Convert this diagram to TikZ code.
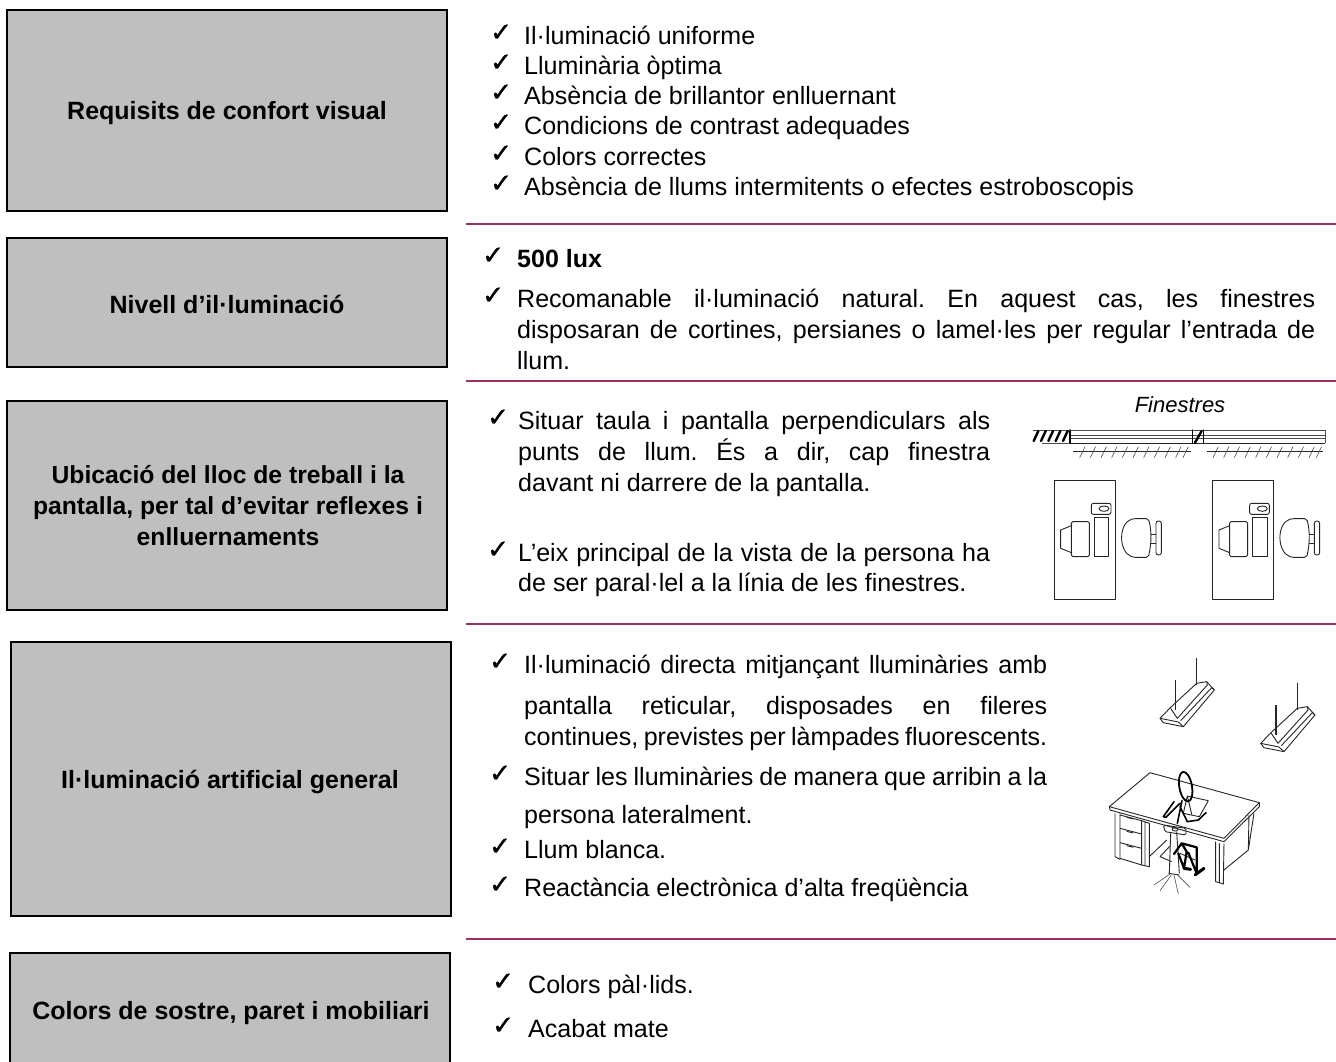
\documentclass[tikz,border=0pt]{standalone}
\usepackage{fontspec}
\setmainfont{Liberation Sans}
\newfontfamily\chkfont[FakeBold=1.2]{DejaVu Sans}
\definecolor{rulec}{HTML}{9B2F60}
\definecolor{boxc}{HTML}{BFBFBF}
\newcommand{\fullw}[2]{\hbox to #1pt{#2}}
\tikzset{
 x=1pt,y=-1pt,
 graybox/.style={draw=black,line width=1.6pt,fill=boxc},
 boxtext/.style={font=\fontsize{25}{31}\selectfont\bfseries\frenchspacing,align=center,inner sep=0pt,text=black},
 bodytext/.style={font=\fontsize{25.05}{30}\selectfont\frenchspacing,anchor=base west,inner sep=0pt,text=black},
 chk/.style={font=\chkfont\fontsize{26}{27}\selectfont,anchor=base west,inner sep=0pt,text=black},
 sep/.style={draw=rulec,line width=1.6pt},
 ink/.style={draw=black!85,line width=.9pt,line join=round},
 thin/.style={draw=black!70,line width=.6pt,line join=round},
 heavy/.style={draw=black,line width=2pt,line join=round,line cap=round},
}
\begin{document}
\begin{tikzpicture}
\useasboundingbox (0,0) rectangle (1336,1061);
\fill[white] (0,0) rectangle (1336,1061);
% boxes
\draw[graybox] (7,10) rectangle (447,211);
\draw[graybox] (7,238) rectangle (447,367);
\draw[graybox] (7,401) rectangle (447,610);
\draw[graybox] (11,642) rectangle (451,916);
\draw[graybox] (10,953) rectangle (450,1070);
\node[boxtext] (b1) at (227,113) {Requisits de confort visual};
\node[boxtext] (b2) at (227,304) {Nivell d’il·luminació};
\node[boxtext,font=\fontsize{24.7}{31}\selectfont\bfseries\frenchspacing] (b3) at (228,505.5) {Ubicació del lloc de treball i la\\pantalla, per tal d’evitar reflexes i\\enlluernaments};
\node[boxtext] (b4) at (230,782) {Il·luminació artificial general};
\node[boxtext] (b5) at (231,1013) {Colors de sostre, paret i mobiliari};
% separators
\draw[sep] (466,224) -- (1336,224);
\draw[sep] (466,381) -- (1336,381);
\draw[sep] (466,624) -- (1336,624);
\draw[sep] (466,939) -- (1336,939);
% section 1
\node[chk] (c1) at (490,41) {✓};
\node[chk] (c2) at (490,71) {✓};
\node[chk] (c3) at (490,101) {✓};
\node[chk] (c4) at (490,131) {✓};
\node[chk] (c5) at (490,162) {✓};
\node[chk] (c6) at (490,192) {✓};
\node[bodytext] (t1) at (524,44) {Il·luminació uniforme};
\node[bodytext] (t2) at (524,74) {Lluminària òptima};
\node[bodytext] (t3) at (524,104) {Absència de brillantor enlluernant};
\node[bodytext] (t4) at (524,134) {Condicions de contrast adequades};
\node[bodytext] (t5) at (524,165) {Colors correctes};
\node[bodytext] (t6) at (524,195) {Absència de llums intermitents o efectes estroboscopis};
% section 2
\node[chk] (c7) at (482,264) {✓};
\node[bodytext,font=\fontsize{25}{30}\selectfont\bfseries] (t7) at (517,267) {500 lux};
\node[chk] (c8) at (482,304) {✓};
\node[bodytext] (t8) at (517,307) {\fullw{798}{Recomanable il·luminació natural. En aquest cas, les finestres}};
\node[bodytext] (t9) at (517,338) {\fullw{798}{disposaran de cortines, persianes o lamel·les per regular l’entrada de}};
\node[bodytext] (t10) at (517,369) {llum.};
% section 3
\node[chk] (c9) at (487,426) {✓};
\node[bodytext] (t11) at (518,429) {\fullw{472}{Situar taula i pantalla perpendiculars als}};
\node[bodytext] (t12) at (518,460) {\fullw{472}{punts de llum. És a dir, cap finestra}};
\node[bodytext] (t13) at (518,491) {davant ni darrere de la pantalla.};
\node[chk] (c10) at (487,558) {✓};
\node[bodytext] (t14) at (518,561) {\fullw{472}{L’eix principal de la vista de la persona ha}};
\node[bodytext] (t15) at (518,591) {de ser paral·lel a la línia de les finestres.};
\node[bodytext,font=\fontsize{22}{26}\selectfont\itshape,anchor=center] (t16) at (1180,405) {Finestres};
% section 4
\node[chk] (c11) at (489,670) {✓};
\node[bodytext] (t17) at (524,673) {\fullw{523}{Il·luminació directa mitjançant lluminàries amb}};
\node[bodytext] (t18) at (524,714) {\fullw{523}{pantalla reticular, disposades en fileres}};
\node[bodytext] (t19) at (524,745) {\fullw{523}{continues, previstes per làmpades fluorescents.}};
\node[chk] (c12) at (489,782) {✓};
\node[bodytext] (t20) at (524,785) {\fullw{523}{Situar les lluminàries de manera que arribin a la}};
\node[bodytext] (t21) at (524,823) {persona lateralment.};
\node[chk] (c13) at (489,855) {✓};
\node[bodytext] (t22) at (524,858) {Llum blanca.};
\node[chk] (c14) at (489,893) {✓};
\node[bodytext] (t23) at (524,896) {Reactància electrònica d’alta freqüència};
% section 5
\node[chk] (c15) at (492,990) {✓};
\node[bodytext] (t24) at (528,993) {Colors pàl·lids.};
\node[chk] (c16) at (492,1034) {✓};
\node[bodytext] (t25) at (528,1037) {Acabat mate};
% window plan drawing
\begin{scope}[shift={(1000,380)},x=.3333pt,y=-.3333pt]
 \draw[thin] (210,150) -- (975,150) (975,150) -- (975,190);
 \draw[ink,line width=1.3pt] (210,190) -- (975,190);
 \draw[thin] (210,165) -- (975,165) (210,175) -- (975,175);
 \draw[heavy,line width=1.4pt] (210,150) -- (210,190) (578,150) -- (578,190) (610,150) -- (610,190);
 \draw[thin] (100,150) -- (210,150) (125,190) -- (210,190);
 \foreach \a in {115,137,159,181,203}{\draw[heavy,line width=2.4pt] (\a,153) -- (\a-14,183);}
 \draw[heavy,line width=2.4pt] (605,153) -- (585,188);
 \draw[ink,line width=1.2pt] (220,215) -- (572,215) (620,215) -- (970,215);
 \foreach \a in {255,287,319,351,383,415,447,479,511,543,565}{\draw[thin] (\a,200) -- (\a-16,233);}
 \foreach \a in {655,687,719,751,783,815,847,879,911,943,965}{\draw[thin] (\a,200) -- (\a-16,233);}
 \foreach \d in {0,475}{
  \begin{scope}[xshift=\d*.3333pt]
  \draw[ink] (163,302) rectangle (346,658);
  \draw[ink,rounded corners=2pt] (274,370) rectangle (333,403);
  \draw[ink] (312,386) ellipse (15 and 8);
  \draw[ink] (282,411) rectangle (326,530);
  \draw[ink,rounded corners=1.5pt] (214,425) rectangle (268,530);
  \draw[ink] (214,437) -- (182,450) -- (182,505) -- (214,518);
  \draw[ink,rounded corners=2pt] (400,416) .. controls (355,430) and (355,515) .. (400,532) -- (445,532) .. controls (455,490) and (455,450) .. (445,416) -- cycle;
  \draw[ink] (453,462) -- (468,462) (453,490) -- (468,490);
  \draw[ink,rounded corners=2.4pt] (468,423) rectangle (484,525);
  \end{scope}
 }
\end{scope}
% lamps
\begin{scope}[shift={(1150,650)},x=.3333pt,y=-.3333pt]
 \foreach \dx/\dy in {0/0,302/75}{
  \begin{scope}[xshift=\dx*.3333pt,yshift=-\dy*.3333pt]
  \draw[ink,fill=white] (30,205) -- (62,172) -- (140,100) -- (170,95) -- (193,120) -- (100,230) -- (40,218) -- cycle;
  \draw[ink] (30,205) -- (85,216) -- (100,230) (62,175) -- (82,205) -- (172,105) -- (170,95) (92,212) -- (185,113) -- (193,120);
  \draw[ink,line width=1.4pt] (76,90) -- (76,180) (140,25) -- (140,105);
  \end{scope}
 }
\end{scope}
% desk and person
\begin{scope}[shift={(1100,760)},x=.3333pt,y=-.3333pt]
 \draw[ink] (28,140) -- (150,38) -- (478,128) -- (372,235) -- cycle;
 \draw[ink] (28,140) -- (30,150) -- (372,245) -- (478,140) -- (478,128);
 \draw[ink] (45,160) -- (45,290) -- (60,298) -- (60,160);
 \draw[ink] (60,165) -- (125,182) -- (125,315) -- (60,295);
 \draw[ink] (60,205) -- (125,222) (60,248) -- (125,265);
 \draw[ink] (80,172) -- (100,177) (80,214) -- (100,219) (80,257) -- (100,262);
 \draw[ink] (125,182) -- (148,190) -- (148,320) -- (125,315) (135,185) -- (135,318);
 \draw[ink] (148,290) -- (200,240);
 \draw[ink] (347,245) -- (347,365) -- (370,372) -- (372,250) (358,250) -- (358,368);
 \draw[ink] (372,330) -- (445,270) -- (462,160) (447,165) -- (445,270);
 % book
 \draw[ink] (250,160) -- (262,108) -- (325,122) -- (298,170) -- cycle (262,108) -- (275,162);
 % chair
 \draw[ink,rounded corners=1.5pt] (190,195) -- (258,205) -- (258,225) -- (195,215) -- cycle;
 \draw[ink] (225,208) ellipse (9 and 5);
 \draw[ink] (212,220) -- (208,340) (230,215) -- (238,340);
 \draw[ink] (180,290) -- (210,258) (180,290) -- (215,305) (240,280) -- (285,300);
 \draw[ink] (206,340) -- (238,345);
 \draw[thin] (210,342) -- (162,375) (214,345) -- (180,392) (222,345) -- (235,402) (230,342) -- (270,382);
 % person
 \draw[heavy,line width=1.8pt,rotate around={10:(257,80)}] (257,80) ellipse (19 and 45);
 \draw[heavy,line width=1.6pt] (246,122) -- (232,190)
   (222,125) -- (190,170) -- (198,172) -- (240,130)
   (240,140) -- (262,185) -- (295,180) -- (318,158);
 \draw[heavy,line width=2.2pt] (222,282) -- (245,250) -- (260,275) -- (252,325) -- (235,280)
   (245,250) -- (290,262) -- (290,340) -- (265,278);
 \draw[heavy,line width=3pt] (252,325) -- (272,328) (285,345) -- (312,325);
\end{scope}
\end{tikzpicture}
\end{document}
